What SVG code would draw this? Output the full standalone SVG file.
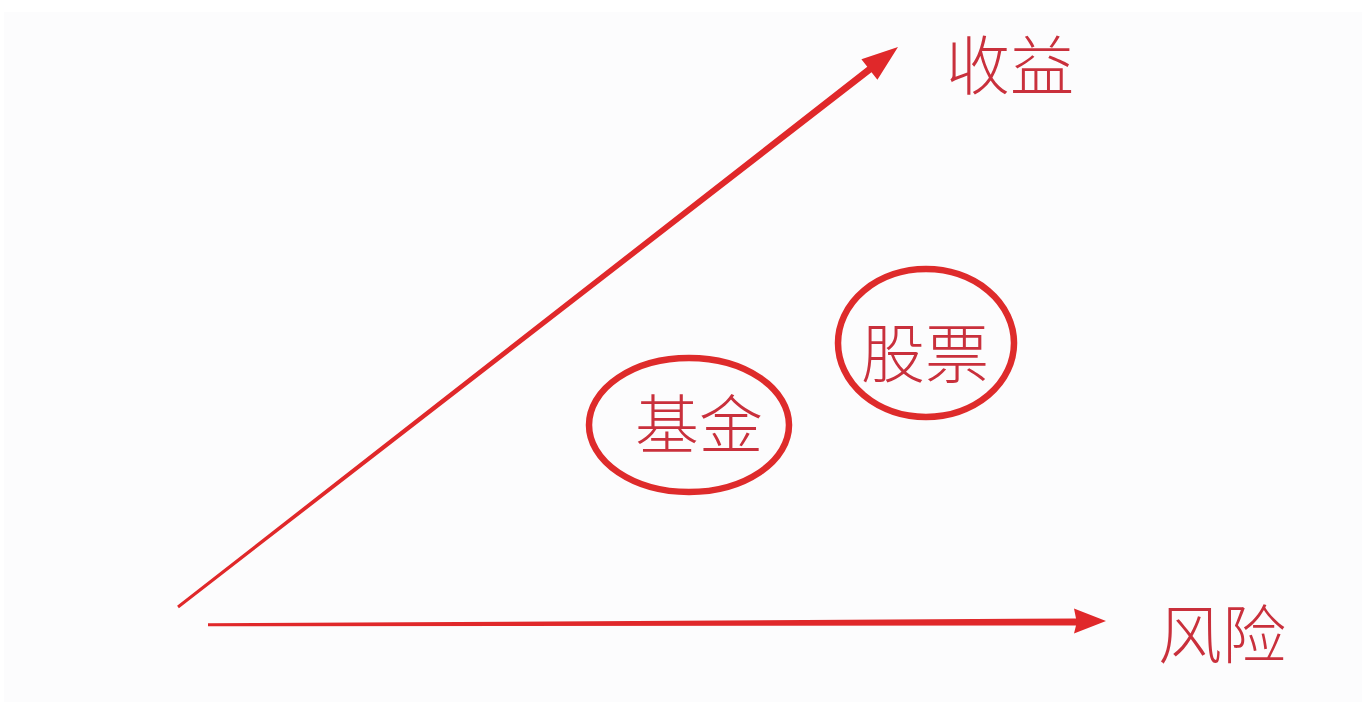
<svg xmlns="http://www.w3.org/2000/svg" width="1362" height="707" viewBox="0 0 1362 707">
<style>
.lbl{font-family:"Noto Sans CJK SC","Noto Sans CJK JP",sans-serif;font-size:64px;fill:#c9303c;font-weight:300}
.ring{fill:none;stroke:#de2b2b;stroke-width:6.5}
.arr{fill:#e0282a}
</style>
<rect x="0" y="0" width="1362" height="707" fill="#ffffff"/>
<rect x="4" y="12" width="1358" height="690" fill="#fcfcfd"/>
<g id="connectors">
<polygon class="arr" points="177.1,605.8 867.3,66.7 861.4,59.2 898,47 877.4,79.8 871.5,72.3 178.9,608.2"/>
<polygon class="arr" points="208,623.3 1076,618.5 1074,608.5 1106,621 1074,633.5 1076,625.5 208,626.3"/>
</g>
<g id="axis-return">
<text class="lbl" x="1010" y="89" text-anchor="middle">收益</text>
</g>
<g id="axis-risk">
<text class="lbl" x="1222" y="658" text-anchor="middle">风险</text>
</g>
<g id="node-fund">
<ellipse class="ring" cx="689" cy="425" rx="100" ry="67"/>
<text class="lbl" x="699" y="448" text-anchor="middle">基金</text>
</g>
<g id="node-stock">
<ellipse class="ring" cx="926" cy="343" rx="88" ry="74"/>
<text class="lbl" x="925" y="377" text-anchor="middle">股票</text>
</g>
</svg>
